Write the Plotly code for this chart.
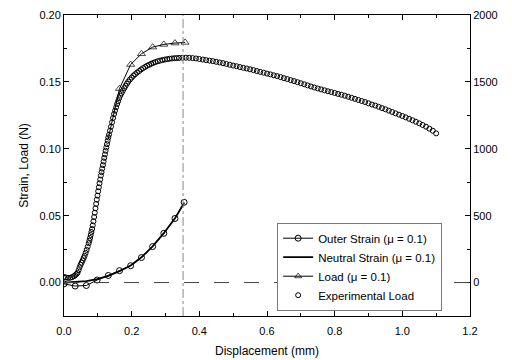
import plotly.graph_objects as go

# ---- Experimental load (N) : rising part + declining part ----
exp_x = [0.000, 0.006, 0.012, 0.018, 0.024, 0.029, 0.033, 0.037,
         0.040, 0.043, 0.046, 0.049, 0.052, 0.055, 0.058, 0.061, 0.064, 0.067,
         0.070, 0.073, 0.075, 0.077, 0.079, 0.081, 0.083, 0.085, 0.087, 0.089,
         0.091, 0.093, 0.095, 0.097, 0.099, 0.101, 0.103, 0.105, 0.107, 0.109,
         0.111, 0.113, 0.115, 0.117, 0.119, 0.121, 0.123, 0.125, 0.127, 0.129,
         0.131, 0.133, 0.136, 0.139, 0.142, 0.145, 0.148, 0.151, 0.154, 0.157,
         0.160, 0.163, 0.166, 0.170, 0.174, 0.178, 0.182, 0.186, 0.190, 0.195,
         0.200, 0.205, 0.210, 0.216, 0.222, 0.228, 0.234, 0.240, 0.246, 0.252,
         0.258, 0.264, 0.270, 0.277, 0.284, 0.291, 0.298, 0.305, 0.312, 0.319,
         0.326, 0.333, 0.340,
         0.35, 0.36, 0.37, 0.38, 0.39, 0.40, 0.41, 0.42, 0.43, 0.44,
         0.45, 0.46, 0.47, 0.48, 0.49, 0.50, 0.51, 0.52, 0.53, 0.54,
         0.55, 0.56, 0.57, 0.58, 0.59, 0.60, 0.61, 0.62, 0.63, 0.64,
         0.65, 0.66, 0.67, 0.68, 0.69, 0.70, 0.71, 0.72, 0.73, 0.74,
         0.75, 0.76, 0.77, 0.78, 0.79, 0.80, 0.81, 0.82, 0.83, 0.84,
         0.85, 0.86, 0.87, 0.88, 0.89, 0.90, 0.91, 0.92, 0.93, 0.94,
         0.95, 0.96, 0.97, 0.98, 0.99, 1.00, 1.01, 1.02, 1.03, 1.04,
         1.05, 1.06, 1.07, 1.08, 1.09, 1.10]
exp_load = [42, 38, 35, 36, 40, 47, 55, 64,
            72, 92, 114, 133, 148, 165, 183, 200, 222, 244,
            268, 294, 313, 333, 355, 378, 400, 428, 458, 490,
            522, 555, 588, 620, 650, 682, 712, 742, 770, 800,
            825, 852, 878, 905, 932, 958, 985, 1010, 1035, 1060,
            1085, 1105, 1135, 1165, 1198, 1230, 1260, 1285, 1310, 1335,
            1355, 1378, 1397, 1415, 1435, 1453, 1470, 1487, 1502, 1518,
            1532, 1546, 1557, 1570, 1581, 1593, 1603, 1612, 1621, 1628,
            1636, 1642, 1648, 1654, 1659, 1663, 1667, 1670, 1673, 1675,
            1677, 1678, 1679,
            1680, 1681, 1680, 1678, 1675, 1671, 1667, 1663, 1659, 1655,
            1650, 1645, 1640, 1634, 1628, 1622, 1617, 1611, 1605, 1600,
            1594, 1588, 1581, 1575, 1569, 1562, 1556, 1549, 1543, 1536,
            1528, 1521, 1513, 1506, 1498, 1490, 1482, 1474, 1466, 1458,
            1451, 1444, 1437, 1430, 1424, 1417, 1410, 1404, 1397, 1389,
            1381, 1373, 1365, 1357, 1349, 1340, 1331, 1323, 1314, 1304,
            1295, 1285, 1275, 1265, 1255, 1245, 1235, 1224, 1213, 1202,
            1190, 1178, 1165, 1150, 1135, 1115]

# ---- Simulated load (mu = 0.1), N ----
load_x = [0.131, 0.164, 0.197, 0.229, 0.262, 0.295, 0.328, 0.358]
load_n = [1080, 1450, 1630, 1710, 1760, 1780, 1790, 1795]

# ---- Strains (mu = 0.1) ----
strain_x = [0.000, 0.033, 0.066, 0.098, 0.131, 0.164, 0.197, 0.229, 0.262, 0.295, 0.328, 0.355]
outer_strain = [-0.001, -0.0026, -0.0022, 0.0019, 0.0053, 0.0089, 0.0126, 0.0187, 0.0269, 0.0368, 0.0479, 0.0600]
neutral_strain = [0.0, 0.0003, 0.0010, 0.0025, 0.0050, 0.0085, 0.0128, 0.0189, 0.0270, 0.0369, 0.0480, 0.0595]

peak_disp = 0.352

x_ticks = [0.0, 0.2, 0.4, 0.6, 0.8, 1.0, 1.2]
left_ticks = [0.00, 0.05, 0.10, 0.15, 0.20]
right_ticks = [0, 500, 1000, 1500, 2000]

FONT = "Liberation Sans, Arial, sans-serif"

fig = go.Figure()
fig.add_trace(go.Scatter(
    x=strain_x, y=outer_strain, mode="lines+markers", name="Outer Strain (μ = 0.1)",
    line=dict(color="black", width=1),
    marker=dict(symbol="circle-open", size=6, color="black", line=dict(width=1))))
fig.add_trace(go.Scatter(
    x=strain_x, y=neutral_strain, mode="lines", name="Neutral Strain (μ = 0.1)",
    line=dict(color="black", width=1.8)))
fig.add_trace(go.Scatter(
    x=load_x, y=load_n, mode="lines+markers", name="Load (μ = 0.1)", yaxis="y2",
    line=dict(color="black", width=1),
    marker=dict(symbol="triangle-up-open", size=[0] + [7] * (len(load_x) - 1),
                color="black", line=dict(width=1))))
fig.add_trace(go.Scatter(
    x=exp_x, y=exp_load, mode="markers", name="Experimental Load", yaxis="y2",
    marker=dict(symbol="circle-open", size=5, color="black", line=dict(width=1))))

fig.add_shape(type="line", xref="paper", x0=0, x1=1, yref="y", y0=0, y1=0,
              line=dict(color="#444", width=1, dash="longdash"))
fig.add_shape(type="line", xref="x", x0=peak_disp, x1=peak_disp, yref="paper", y0=0, y1=1,
              line=dict(color="#888", width=1, dash="dashdot"))

axis_common = dict(showline=True, linecolor="black", linewidth=1, ticks="inside",
                   tickcolor="black", ticklen=5, showgrid=False, zeroline=False,
                   automargin=False,
                   tickfont=dict(family=FONT, size=11, color="black"))

fig.update_layout(
    width=512, height=360,
    margin=dict(l=64, r=42, t=15, b=44),
    paper_bgcolor="white", plot_bgcolor="white",
    font=dict(family=FONT, size=11, color="black"),
    showlegend=True,
    legend=dict(x=0.525, y=0.31, xanchor="left", yanchor="top",
                bgcolor="white", bordercolor="#777", borderwidth=1,
                font=dict(family=FONT, size=11.5, color="black"),
                tracegroupgap=0, itemwidth=30),
    xaxis=dict(range=[0, 1.2], tickvals=x_ticks, tickformat=".1f", mirror="ticks",
               ticklabelstandoff=5,
               minor=dict(dtick=0.1, ticks="inside", ticklen=3, tickcolor="black"),
               title=dict(text="Displacement (mm)", font=dict(family=FONT, size=12), standoff=10),
               **axis_common),
    yaxis=dict(range=[-0.025, 0.2], tickvals=left_ticks, tickformat=".2f",
               minor=dict(dtick=0.025, ticks="inside", ticklen=3, tickcolor="black"),
               title=dict(text="Strain, Load (N)", font=dict(family=FONT, size=12), standoff=8),
               **axis_common),
    yaxis2=dict(range=[-250, 2000], tickvals=right_ticks, overlaying="y", side="right",
                minor=dict(dtick=250, ticks="inside", ticklen=3, tickcolor="black"),
                **axis_common),
)

fig.write_html("out.html")
